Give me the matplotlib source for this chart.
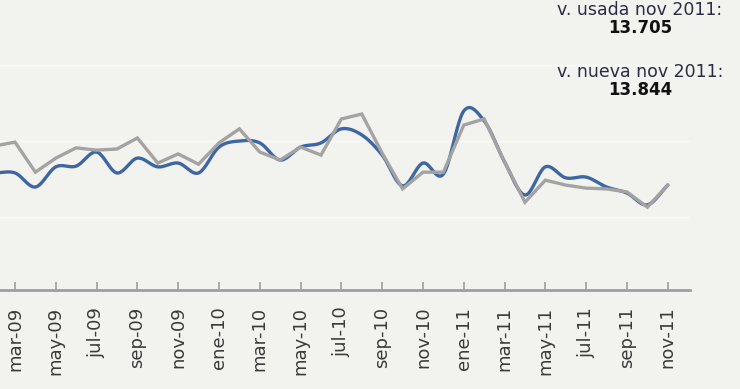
import numpy as np
import matplotlib
matplotlib.use('Agg')
import matplotlib.pyplot as plt

# meses feb-09 .. nov-11 (valores en miles)
meses = ['feb-09', 'mar-09', 'abr-09', 'may-09', 'jun-09', 'jul-09', 'ago-09', 'sep-09', 'oct-09', 'nov-09', 'dic-09',
         'ene-10', 'feb-10', 'mar-10', 'abr-10', 'may-10', 'jun-10', 'jul-10', 'ago-10', 'sep-10', 'oct-10', 'nov-10', 'dic-10',
         'ene-11', 'feb-11', 'mar-11', 'abr-11', 'may-11', 'jun-11', 'jul-11', 'ago-11', 'sep-11', 'oct-11', 'nov-11']

v_nueva = [14.16, 14.16, 13.79, 14.32, 14.34, 14.71, 14.16, 14.55, 14.32, 14.42, 14.16,
           14.84, 15.00, 14.95, 14.50, 14.84, 14.95, 15.32, 15.16, 14.63, 13.82, 14.42, 14.13,
           15.79, 15.53, 14.45, 13.58, 14.32, 14.03, 14.05, 13.79, 13.63, 13.32, 13.84]

v_usada = [14.87, 14.97, 14.18, 14.55, 14.82, 14.76, 14.79, 15.08, 14.42, 14.66, 14.39,
           14.95, 15.32, 14.71, 14.50, 14.84, 14.63, 15.58, 15.71, 14.68, 13.74, 14.18, 14.18,
           15.42, 15.58, 14.45, 13.39, 13.97, 13.84, 13.76, 13.74, 13.66, 13.26, 13.84]

txt_usada = 'v. usada nov 2011:'
num_usada = '13.705'
txt_nueva = 'v. nueva nov 2011:'
num_nueva = '13.844'

x = np.arange(len(meses))


def catmull_rom(xs, ys, n=20):
    # curva suave que pasa por los puntos
    xs = np.asarray(xs, float)
    ys = np.asarray(ys, float)
    px = np.concatenate([[2 * xs[0] - xs[1]], xs, [2 * xs[-1] - xs[-2]]])
    py = np.concatenate([[2 * ys[0] - ys[1]], ys, [2 * ys[-1] - ys[-2]]])
    ox, oy = [], []
    t = np.linspace(0, 1, n, endpoint=False)
    for i in range(1, len(px) - 2):
        for arr, out in ((px, ox), (py, oy)):
            p0, p1, p2, p3 = arr[i - 1], arr[i], arr[i + 1], arr[i + 2]
            out.extend(0.5 * ((2 * p1) + (-p0 + p2) * t + (2 * p0 - 5 * p1 + 4 * p2 - p3) * t ** 2
                              + (-p0 + 3 * p1 - 3 * p2 + p3) * t ** 3))
    ox.append(xs[-1])
    oy.append(ys[-1])
    return np.array(ox), np.array(oy)


bg = '#f2f2ee'
fig = plt.figure(figsize=(7.4, 3.89), dpi=100, facecolor=bg)
ax = fig.add_axes([0, 0.2545, 690 / 740, 0.7455], facecolor=bg)

for g in [13, 15, 17]:
    ax.axhline(g, color='#f7f7f4', lw=1.8, zorder=1)

sx, sy = catmull_rom(x, v_nueva)
ax.plot(sx, sy, color='#3d66a3', lw=2.4, zorder=3, solid_capstyle='round')
ax.plot(x, v_usada, color='#a3a3a3', lw=2.4, zorder=4, solid_joinstyle='miter')

ax.set_xlim(0.265, 34.09)
ax.set_ylim(11.08, 18.71)

for s in ['top', 'right', 'left']:
    ax.spines[s].set_visible(False)
ax.spines['bottom'].set_color('#9c9ea2')
ax.spines['bottom'].set_linewidth(2)

ticks = x[1::2]
ax.set_xticks(ticks)
ax.set_xticklabels([meses[i] for i in ticks], rotation=90, fontsize=13, color='#3a3a3a',
                   va='top', ha='center')
ax.tick_params(axis='x', direction='in', length=6, width=1.2, color='#9c9ea2', pad=12)
ax.set_yticks([])

fig.text(640 / 740, 1 - 10 / 389, txt_usada, ha='center', va='center', fontsize=12.5, color='#2b2b45')
fig.text(640 / 740, 1 - 28 / 389, num_usada, ha='center', va='center', fontsize=12,
         fontweight='bold', color='#111111')
fig.text(640 / 740, 1 - 72 / 389, txt_nueva, ha='center', va='center', fontsize=12.5, color='#2b2b45')
fig.text(640 / 740, 1 - 90 / 389, num_nueva, ha='center', va='center', fontsize=12,
         fontweight='bold', color='#111111')

fig.savefig('out.png', dpi=100, facecolor=bg)
